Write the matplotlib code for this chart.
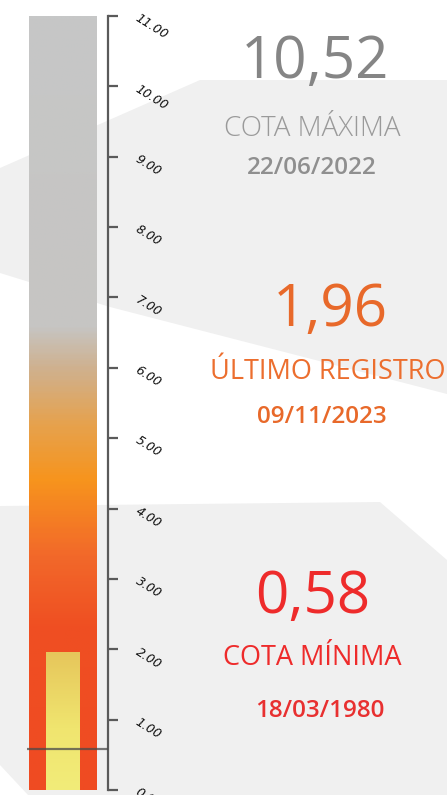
import matplotlib
matplotlib.use('Agg')
import matplotlib.pyplot as plt
from matplotlib.colors import LinearSegmentedColormap
from matplotlib.patches import Polygon
import numpy as np

# datos del nivel
cota_maxima = 10.52
fecha_maxima = '22/06/2022'
ultimo_registro = 1.96
fecha_ultimo = '09/11/2023'
cota_minima = 0.58
fecha_minima = '18/03/1980'
escala_max = 11
ticks = list(range(0, 12))

W, H = 447, 795
fig = plt.figure(figsize=(W / 100, H / 100), dpi=100)

# fondo gris con bandas blancas
bg = fig.add_axes([0, 0, 1, 1], zorder=-1)
bg.set_xlim(0, W)
bg.set_ylim(H, 0)
bg.axis('off')
bg.add_patch(Polygon([[0, 0], [0, H], [W, H], [W, 0]], color='#f0f0f0', lw=0))
bg.add_patch(Polygon([[0, 0], [W, 0], [W, 80], [200, 80], [0, 168]], color='white', lw=0))
bg.add_patch(Polygon([[0, 273], [110, 307], [W, 394], [W, 560], [380, 502], [0, 506]], color='white', lw=0))
bg.add_patch(Polygon([[0, 765], [28, H], [0, H]], color='white', lw=0))

# termometro
ax = fig.add_axes([0, 1 - 790 / H, 108 / W, (790 - 16) / H])
ax.set_xlim(0, 108)
ax.set_ylim(0, escala_max)
ax.patch.set_alpha(0)

cmap_fondo = LinearSegmentedColormap.from_list('nivel', [
    (0.0, '#ef4b22'), (2.3 / 11, '#ef4f22'), (3.3 / 11, '#f2682a'),
    (4.4 / 11, '#f7941d'), (5.2 / 11, '#e6a24e'), (6.0 / 11, '#cfb18f'),
    (6.6 / 11, '#c6c5c3'), (1.0, '#c6c7c7')])
grad = np.linspace(0, 1, 400)[:, None]
ax.imshow(grad, extent=[29, 97, 0, escala_max], origin='lower', cmap=cmap_fondo,
          aspect='auto', zorder=1)

cmap_ultimo = LinearSegmentedColormap.from_list('ultimo', [
    (0.0, '#f2ec79'), (0.45, '#f0e56f'), (1.0, '#e6c65b')])
ax.imshow(grad, extent=[46, 80, 0, ultimo_registro], origin='lower', cmap=cmap_ultimo,
          aspect='auto', zorder=2)

ax.plot([27, 108], [cota_minima, cota_minima], color='#4a4a4a', lw=1.6, alpha=0.75,
        zorder=3, solid_capstyle='butt')

for s in ['top', 'left', 'bottom']:
    ax.spines[s].set_visible(False)
ax.spines['right'].set_color('#5a5a5a')
ax.spines['right'].set_linewidth(1.6)
ax.set_xticks([])
ax.yaxis.tick_right()
ax.set_yticks(ticks)
ax.set_yticklabels(['{:.2f}'.format(t) for t in ticks], rotation=-32,
                   fontsize=9, fontstyle='italic', rotation_mode='anchor')
ax.tick_params(axis='y', direction='out', length=7, width=1.6, color='#5a5a5a',
               pad=14, labelcolor='#111111')


def texto(x, y, s, size, color, weight='normal', family='Open Sans'):
    fig.text(x / W, 1 - y / H, s, ha='center', va='center', fontsize=size,
             color=color, fontweight=weight, family=family)


texto(315, 63, '{:.2f}'.format(cota_maxima).replace('.', ','), 42, '#858585')
texto(312, 129, 'COTA MÁXIMA', 20, '#9a9a9a', 'light')
texto(312, 168, fecha_maxima, 17.5, '#8f8f8f', 'semibold')

texto(330, 311, '{:.2f}'.format(ultimo_registro).replace('.', ','), 42, '#e8692a')
texto(328, 372, 'ÚLTIMO REGISTRO', 19.5, '#ec6e2e')
texto(322, 417, fecha_ultimo, 17.5, '#e8692a', 'semibold')

texto(313, 598, '{:.2f}'.format(cota_minima).replace('.', ','), 42, '#ee2b2b')
texto(312, 658, 'COTA MÍNIMA', 19.5, '#ee2b2b')
texto(320, 711, fecha_minima, 17.5, '#e83030', 'semibold')

fig.savefig('out.png', dpi=100)
